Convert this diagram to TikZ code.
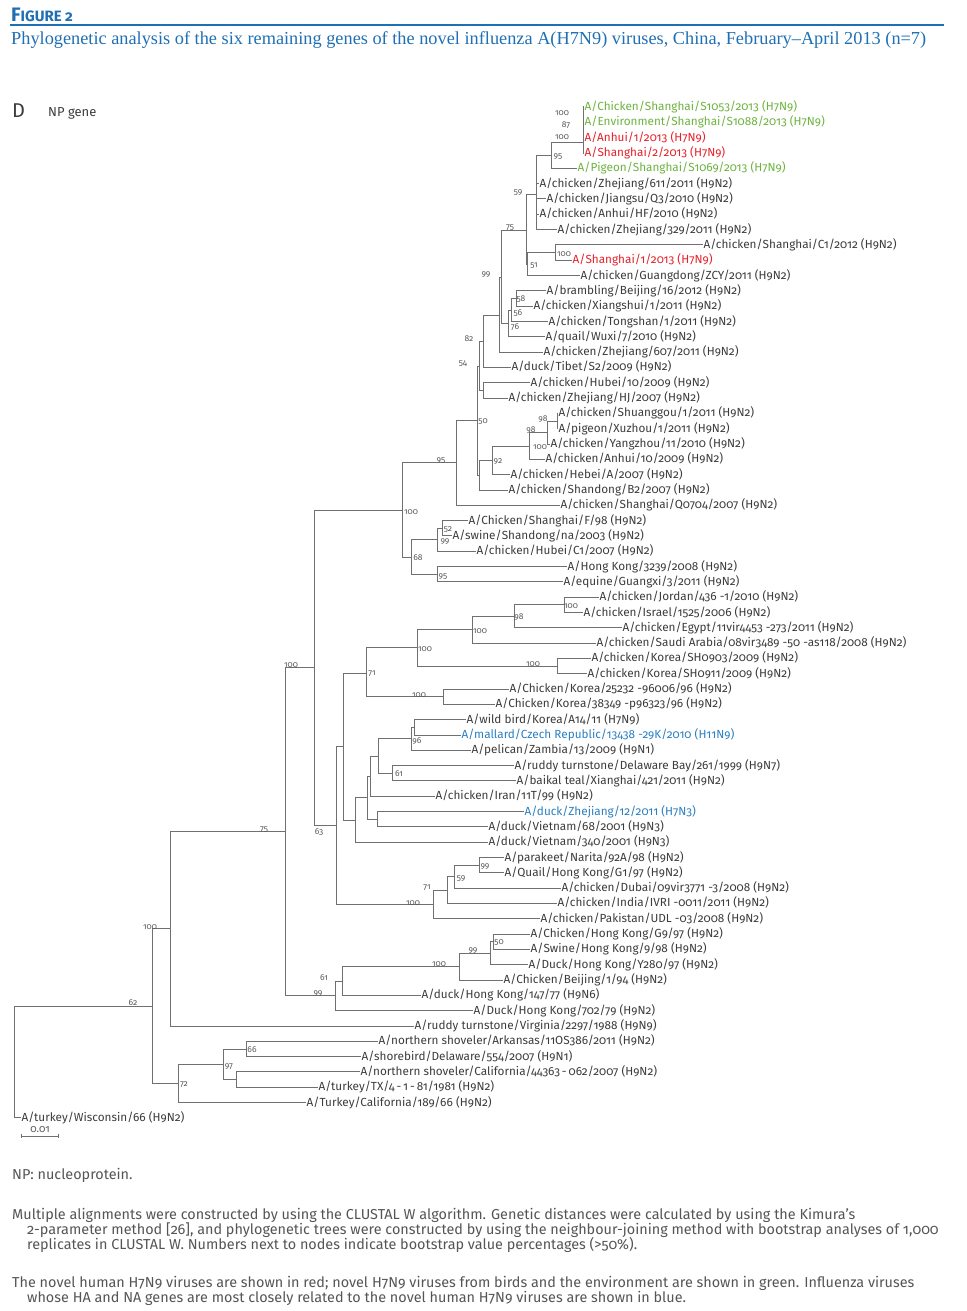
\documentclass[tikz,border=0pt]{standalone}
\usepackage{fontspec}
\setmainfont{Fira Sans}[Numbers=OldStyle]
\newfontfamily\serifhead{Liberation Serif}
\usetikzlibrary{graphs, arrows.meta}

\definecolor{figblue}{HTML}{1F6FB4}
\definecolor{h7green}{HTML}{6DB33F}
\definecolor{h7red}{HTML}{E62129}
\definecolor{nablue}{HTML}{2A7FC1}
\definecolor{leafgray}{HTML}{3C3C3C}
\definecolor{linegray}{HTML}{707070}
\definecolor{bootgray}{HTML}{5A5A5A}
\definecolor{bodygray}{HTML}{555555}

\newcommand{\leafsize}{\fontsize{11.75}{13}\selectfont}
\newcommand{\bootsize}{\fontsize{8.5}{9}\selectfont}
\newcommand{\bodysize}{\fontsize{14.4}{16}\selectfont}

\tikzset{
  leaf/.style={anchor=west, inner xsep=0.5pt, inner ysep=0pt, text height=9pt, text depth=2pt, font=\leafsize, text=leafgray},
  boot/.style={inner sep=0pt, font=\bootsize, text=bootgray},
  branch/.style={draw=linegray, line width=1pt, to path={|- (\tikztotarget)}},
  body/.style={anchor=west, inner sep=0pt, font=\bodysize, text=bodygray},
}

\begin{document}
\begin{tikzpicture}[x=1pt, y=-1pt]
    \useasboundingbox (0,0) rectangle (966,1311);

    % heading
    \node[anchor=west, inner sep=0pt, text=figblue, font=\bfseries] (fighead) at (11,15) {\fontsize{19.5}{19.5}\selectfont F\fontsize{15}{15}\selectfont IGURE 2};
    \coordinate (rule0) at (10,25);
    \coordinate (rule1) at (944,25);
    \draw[figblue, line width=1.5pt] (rule0) -- (rule1);
    \node[anchor=west, inner sep=0pt, text=figblue, font=\serifhead\fontsize{18.3}{20}\selectfont] (title) at (11,40) {Phylogenetic analysis of the six remaining genes of the novel influenza A(H7N9) viruses, China, February–April 2013 (n=7)};
    \node[anchor=west, inner sep=0pt, text=leafgray, font=\fontsize{20}{20}\selectfont] (panel) at (12,111) {D};
    \node[anchor=west, inner sep=0pt, text=leafgray, font=\fontsize{13}{13}\selectfont] (gene) at (48,113) {NP gene};

    % internal nodes of the tree
    \coordinate (root)  at (14,1062);
    \coordinate (n2)    at (152,1006.2);
    \coordinate (n3)    at (170,928.9);
    \coordinate (n4)    at (285,831.8);
    \coordinate (n5)    at (314,667.8);
    \coordinate (n6)    at (402,510);
    \coordinate (n7)    at (456,462.9);
    \coordinate (n8)    at (477,420.5);
    \coordinate (n9)    at (479,366);
    \coordinate (n10)   at (483,341.2);
    \coordinate (n11)   at (499.5,315);
    \coordinate (nq)    at (501.5,277);
    \coordinate (n59)   at (526,230.5);
    \coordinate (na)    at (536,194);
    \coordinate (n95a)  at (551,155.5);
    \coordinate (np)    at (583,142);
    \coordinate (n51)   at (527.5,264);
    \coordinate (n100b) at (555,252.5);
    \coordinate (n76)   at (508,323.4);
    \coordinate (n56)   at (511,310);
    \coordinate (n58)   at (516,298.5);
    \coordinate (n12)   at (483,390.4);
    \coordinate (n13)   at (479,475);
    \coordinate (n92)   at (492,460.3);
    \coordinate (n98b)  at (529,446);
    \coordinate (n100c) at (547,432.5);
    \coordinate (n98a)  at (557,421);
    \coordinate (n16)   at (411,557);
    \coordinate (n99c)  at (437,539.7);
    \coordinate (n52)   at (442,528.3);
    \coordinate (n95b)  at (437,574.2);
    \coordinate (n20)   at (336,825.6);
    \coordinate (nm)    at (343.5,746.7);
    \coordinate (n71)   at (366.7,673.4);
    \coordinate (n100h) at (417,647.8);
    \coordinate (n100j) at (472,629.6);
    \coordinate (n98c)  at (514,616.3);
    \coordinate (n100k) at (564,604.8);
    \coordinate (n100l) at (557.5,666);
    \coordinate (n100i) at (443,696.7);
    \coordinate (nk)    at (355,820);
    \coordinate (nj)    at (367,797.7);
    \coordinate (ni)    at (370,776.1);
    \coordinate (ng)    at (378,756);
    \coordinate (nf)    at (411,738.8);
    \coordinate (nf1)   at (414,727.3);
    \coordinate (n61)   at (392,773.3);
    \coordinate (nh)    at (377,819.2);
    \coordinate (n100g) at (433,904.4);
    \coordinate (n71b)  at (447,890);
    \coordinate (n59b)  at (454,876.6);
    \coordinate (n99f)  at (479,865.2);
    \coordinate (n35)   at (335,995.8);
    \coordinate (n61b)  at (342.5,981);
    \coordinate (n100n) at (459,966.5);
    \coordinate (n99e)  at (490,953);
    \coordinate (n50b)  at (493,941.7);
    \coordinate (n40)   at (178,1083.4);
    \coordinate (n97)   at (223,1064.3);
    \coordinate (n66)   at (246,1049);
    \coordinate (nx)    at (236,1079.5);

    % strains
    \node[leaf, text=h7green] (l1)  at (584,107.0)  {A/Chicken/Shanghai/S1053/2013 (H7N9)};
    \node[leaf, text=h7green] (l2)  at (584,122.3)  {A/Environment/Shanghai/S1088/2013 (H7N9)};
    \node[leaf, text=h7red]   (l3)  at (584,137.6)  {A/Anhui/1/2013 (H7N9)};
    \node[leaf, text=h7red]   (l4)  at (584,153.0)  {A/Shanghai/2/2013 (H7N9)};
    \node[leaf, text=h7green] (l5)  at (577,168.3)  {A/Pigeon/Shanghai/S1069/2013 (H7N9)};
    \node[leaf] (l6)  at (539,183.6)  {A/chicken/Zhejiang/611/2011 (H9N2)};
    \node[leaf] (l7)  at (546,198.9)  {A/chicken/Jiangsu/Q3/2010 (H9N2)};
    \node[leaf] (l8)  at (539,214.2)  {A/chicken/Anhui/HF/2010 (H9N2)};
    \node[leaf] (l9)  at (557,229.6)  {A/chicken/Zhejiang/329/2011 (H9N2)};
    \node[leaf] (l10) at (703,244.9)  {A/chicken/Shanghai/C1/2012 (H9N2)};
    \node[leaf, text=h7red]   (l11) at (572,260.2)  {A/Shanghai/1/2013 (H7N9)};
    \node[leaf] (l12) at (580,275.5)  {A/chicken/Guangdong/ZCY/2011 (H9N2)};
    \node[leaf] (l13) at (546,290.8)  {A/brambling/Beijing/16/2012 (H9N2)};
    \node[leaf] (l14) at (533,306.2)  {A/chicken/Xiangshui/1/2011 (H9N2)};
    \node[leaf] (l15) at (548,321.5)  {A/chicken/Tongshan/1/2011 (H9N2)};
    \node[leaf] (l16) at (545,336.8)  {A/quail/Wuxi/7/2010 (H9N2)};
    \node[leaf] (l17) at (543,352.1)  {A/chicken/Zhejiang/607/2011 (H9N2)};
    \node[leaf] (l18) at (511,367.4)  {A/duck/Tibet/S2/2009 (H9N2)};
    \node[leaf] (l19) at (530,382.7)  {A/chicken/Hubei/10/2009 (H9N2)};
    \node[leaf] (l20) at (508,398.1)  {A/chicken/Zhejiang/HJ/2007 (H9N2)};
    \node[leaf] (l21) at (558,413.4)  {A/chicken/Shuanggou/1/2011 (H9N2)};
    \node[leaf] (l22) at (558,428.7)  {A/pigeon/Xuzhou/1/2011 (H9N2)};
    \node[leaf] (l23) at (550,444.0)  {A/chicken/Yangzhou/11/2010 (H9N2)};
    \node[leaf] (l24) at (545,459.3)  {A/chicken/Anhui/10/2009 (H9N2)};
    \node[leaf] (l25) at (510,474.6)  {A/chicken/Hebei/A/2007 (H9N2)};
    \node[leaf] (l26) at (508,490.0)  {A/chicken/Shandong/B2/2007 (H9N2)};
    \node[leaf] (l27) at (560,505.3)  {A/chicken/Shanghai/Q0704/2007 (H9N2)};
    \node[leaf] (l28) at (468,520.6)  {A/Chicken/Shanghai/F/98 (H9N2)};
    \node[leaf] (l29) at (452,535.9)  {A/swine/Shandong/na/2003 (H9N2)};
    \node[leaf] (l30) at (476,551.2)  {A/chicken/Hubei/C1/2007 (H9N2)};
    \node[leaf] (l31) at (567,566.5)  {A/Hong Kong/3239/2008 (H9N2)};
    \node[leaf] (l32) at (563,581.8)  {A/equine/Guangxi/3/2011 (H9N2)};
    \node[leaf] (l33) at (599,597.2)  {A/chicken/Jordan/436 -1/2010 (H9N2)};
    \node[leaf] (l34) at (583,612.5)  {A/chicken/Israel/1525/2006 (H9N2)};
    \node[leaf] (l35) at (622,627.8)  {A/chicken/Egypt/11vir4453 -273/2011 (H9N2)};
    \node[leaf] (l36) at (596,643.1)  {A/chicken/Saudi Arabia/08vir3489 -50 -as118/2008 (H9N2)};
    \node[leaf] (l37) at (591,658.4)  {A/chicken/Korea/SH0903/2009 (H9N2)};
    \node[leaf] (l38) at (587,673.7)  {A/chicken/Korea/SH0911/2009 (H9N2)};
    \node[leaf] (l39) at (509,689.0)  {A/Chicken/Korea/25232 -96006/96 (H9N2)};
    \node[leaf] (l40) at (495,704.4)  {A/Chicken/Korea/38349 -p96323/96 (H9N2)};
    \node[leaf] (l41) at (466,719.7)  {A/wild bird/Korea/A14/11 (H7N9)};
    \node[leaf, text=nablue]  (l42) at (461,735.0)  {A/mallard/Czech Republic/13438 -29K/2010 (H11N9)};
    \node[leaf] (l43) at (471,750.3)  {A/pelican/Zambia/13/2009 (H9N1)};
    \node[leaf] (l44) at (514,765.6)  {A/ruddy turnstone/Delaware Bay/261/1999 (H9N7)};
    \node[leaf] (l45) at (516,780.9)  {A/baikal teal/Xianghai/421/2011 (H9N2)};
    \node[leaf] (l46) at (435,796.2)  {A/chicken/Iran/11T/99 (H9N2)};
    \node[leaf, text=nablue]  (l47) at (524,811.6)  {A/duck/Zhejiang/12/2011 (H7N3)};
    \node[leaf] (l48) at (488,826.9)  {A/duck/Vietnam/68/2001 (H9N3)};
    \node[leaf] (l49) at (488,842.2)  {A/duck/Vietnam/340/2001 (H9N3)};
    \node[leaf] (l50) at (504,857.5)  {A/parakeet/Narita/92A/98 (H9N2)};
    \node[leaf] (l51) at (504,872.8)  {A/Quail/Hong Kong/G1/97 (H9N2)};
    \node[leaf] (l52) at (561,888.1)  {A/chicken/Dubai/09vir3771 -3/2008 (H9N2)};
    \node[leaf] (l53) at (557,903.4)  {A/chicken/India/IVRI -0011/2011 (H9N2)};
    \node[leaf] (l54) at (540,918.8)  {A/chicken/Pakistan/UDL -03/2008 (H9N2)};
    \node[leaf] (l55) at (530,934.1)  {A/Chicken/Hong Kong/G9/97 (H9N2)};
    \node[leaf] (l56) at (530,949.4)  {A/Swine/Hong Kong/9/98 (H9N2)};
    \node[leaf] (l57) at (528,964.7)  {A/Duck/Hong Kong/Y280/97 (H9N2)};
    \node[leaf] (l58) at (503,980.0)  {A/Chicken/Beijing/1/94 (H9N2)};
    \node[leaf] (l59) at (421,995.3)  {A/duck/Hong Kong/147/77 (H9N6)};
    \node[leaf] (l60) at (473,1010.6) {A/Duck/Hong Kong/702/79 (H9N2)};
    \node[leaf] (l61) at (414,1026.0) {A/ruddy turnstone/Virginia/2297/1988 (H9N9)};
    \node[leaf] (l62) at (378,1041.3) {A/northern shoveler/Arkansas/11OS386/2011 (H9N2)};
    \node[leaf] (l63) at (361,1056.6) {A/shorebird/Delaware/554/2007 (H9N1)};
    \node[leaf] (l64) at (360,1071.9) {A/northern shoveler/California/44363\,-\,062/2007 (H9N2)};
    \node[leaf] (l65) at (318,1087.2) {A/turkey/TX/4\,-\,1\,-\,81/1981 (H9N2)};
    \node[leaf] (l66) at (306,1102.5) {A/Turkey/California/189/66 (H9N2)};
    \node[leaf] (l67) at (21,1117.8)  {A/turkey/Wisconsin/66 (H9N2)};

    \graph[use existing nodes, edges=branch]{
        root -- {l67, n2};
        n2 -- {n3, n40};
        n3 -- {n4, l61};
        n4 -- {n5, n35};
        n5 -- {n6, n20};
        n6 -- {n7, n16};
        n7 -- {n8, l27};
        n8 -- {n9, n13};
        n9 -- {n10, n12};
        n10 -- {n11, l18};
        n11 -- {nq, l17};
        nq -- {n59, n76};
        n59 -- {na, n51};
        na -- {n95a, l6, l7, l8, l9};
        n95a -- {np, l5};
        np -- {l1, l2, l3, l4};
        n51 -- {n100b, l12};
        n100b -- {l10, l11};
        n76 -- {n56, l16};
        n56 -- {n58, l15};
        n58 -- {l13, l14};
        n12 -- {l19, l20};
        n13 -- {n92, l26};
        n92 -- {n98b, l25};
        n98b -- {n100c, l24};
        n100c -- {n98a, l23};
        n98a -- {l21, l22};
        n16 -- {n99c, n95b};
        n99c -- {n52, l30};
        n52 -- {l28, l29};
        n95b -- {l31, l32};
        n20 -- {nm, n100g};
        nm -- {n71, nk};
        n71 -- {n100h, n100i};
        n100h -- {n100j, n100l};
        n100j -- {n98c, l36};
        n98c -- {n100k, l35};
        n100k -- {l33, l34};
        n100l -- {l37, l38};
        n100i -- {l39, l40};
        nk -- {nj, l49};
        nj -- {ni, nh};
        ni -- {ng, l46};
        ng -- {nf, n61};
        nf -- {nf1, l43};
        nf1 -- {l41, l42};
        n61 -- {l44, l45};
        nh -- {l47, l48};
        n100g -- {n71b, l54};
        n71b -- {n59b, l53};
        n59b -- {n99f, l52};
        n99f -- {l50, l51};
        n35 -- {n61b, l60};
        n61b -- {n100n, l59};
        n100n -- {n99e, l58};
        n99e -- {n50b, l57};
        n50b -- {l55, l56};
        n40 -- {n97, l66};
        n97 -- {n66, nx};
        n66 -- {l62, l63};
        nx -- {l64, l65};
    };

    % bootstrap values
    \node[boot] (b1)  at (562,113)  {100};
    \node[boot] (b2)  at (566,125)  {87};
    \node[boot] (b3)  at (562,137)  {100};
    \node[boot] (b4)  at (558,157)  {95};
    \node[boot] (b5)  at (518,193)  {59};
    \node[boot] (b6)  at (510,228)  {75};
    \node[boot] (b7)  at (564,254)  {100};
    \node[boot] (b8)  at (534,266)  {51};
    \node[boot] (b9)  at (486,275)  {99};
    \node[boot] (b10) at (521,299)  {58};
    \node[boot] (b11) at (518,313)  {56};
    \node[boot] (b12) at (515,327)  {76};
    \node[boot] (b13) at (469,339)  {82};
    \node[boot] (b14) at (463,364)  {54};
    \node[boot] (b15) at (483,422)  {50};
    \node[boot] (b16) at (543,419)  {98};
    \node[boot] (b17) at (531,430)  {98};
    \node[boot] (b18) at (540,447)  {100};
    \node[boot] (b19) at (498,462)  {92};
    \node[boot] (b20) at (441,461)  {95};
    \node[boot] (b21) at (411,512)  {100};
    \node[boot] (b22) at (448,530)  {52};
    \node[boot] (b23) at (445,542)  {99};
    \node[boot] (b24) at (418,558)  {68};
    \node[boot] (b25) at (443,577)  {95};
    \node[boot] (b26) at (571,606)  {100};
    \node[boot] (b27) at (519,617)  {98};
    \node[boot] (b28) at (480,631)  {100};
    \node[boot] (b29) at (425,649)  {100};
    \node[boot] (b30) at (533,664)  {100};
    \node[boot] (b31) at (372,674)  {71};
    \node[boot] (b32) at (419,695)  {100};
    \node[boot] (b33) at (291,665)  {100};
    \node[boot] (b34) at (417,741)  {96};
    \node[boot] (b35) at (399,774)  {61};
    \node[boot] (b36) at (264,830)  {75};
    \node[boot] (b37) at (319,832)  {63};
    \node[boot] (b38) at (485,867)  {99};
    \node[boot] (b39) at (461,879)  {59};
    \node[boot] (b40) at (427,888)  {71};
    \node[boot] (b41) at (413,903)  {100};
    \node[boot] (b42) at (499,943)  {50};
    \node[boot] (b43) at (473,951)  {99};
    \node[boot] (b44) at (439,964)  {100};
    \node[boot] (b45) at (324,978)  {61};
    \node[boot] (b46) at (318,994)  {99};
    \node[boot] (b47) at (150,927)  {100};
    \node[boot] (b48) at (133,1003) {62};
    \node[boot] (b49) at (252,1050) {66};
    \node[boot] (b50) at (229,1067) {97};
    \node[boot] (b51) at (184,1085) {72};

    % scale bar
    \coordinate (bar0) at (21,1136);
    \coordinate (bar1) at (59,1136);
    \draw[linegray, line width=0.8pt, {Bar[width=4pt]}-{Bar[width=4pt]}] (bar0) -- (bar1);
    \node[boot, font=\fontsize{10.5}{11}\selectfont] (barlabel) at (40,1130) {0.01};

    % notes
    \node[body] (note0) at (12,1175) {NP: nucleoprotein.};
    \node[body] (note1) at (12,1215) {Multiple alignments were constructed by using the CLUSTAL W algorithm. Genetic distances were calculated by using the Kimura’s};
    \node[body] (note2) at (27,1230) {2-parameter method [26], and phylogenetic trees were constructed by using the neighbour-joining method with bootstrap analyses of 1,000};
    \node[body] (note3) at (27,1245) {replicates in CLUSTAL W. Numbers next to nodes indicate bootstrap value percentages (>50\%).};
    \node[body] (note4) at (12,1283) {The novel human H7N9 viruses are shown in red; novel H7N9 viruses from birds and the environment are shown in green. Influenza viruses};
    \node[body] (note5) at (27,1298) {whose HA and NA genes are most closely related to the novel human H7N9 viruses are shown in blue.};
\end{tikzpicture}
\end{document}
